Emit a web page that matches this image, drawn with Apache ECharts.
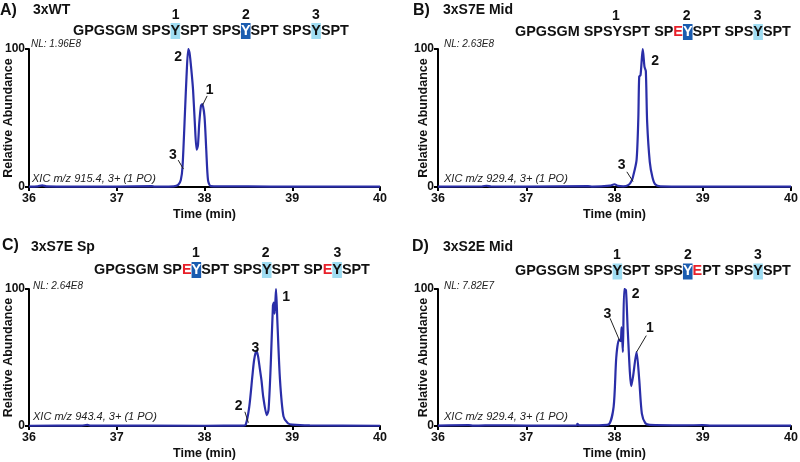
<!DOCTYPE html>
<html><head><meta charset="utf-8">
<script src="https://cdn.jsdelivr.net/npm/echarts@6/dist/echarts.min.js"></script>
<style>html,body{margin:0;padding:0;background:#fff}#c{width:800px;height:462px}</style>
</head><body><div id="c"></div>
<script>
// ---- data ----
var tA = [36.0,36.1,36.15,36.2,36.5,37.0,37.4,37.43,37.5,37.65,37.70,37.73,37.75,37.78,37.795,37.815,37.83,37.85,37.87,37.89,37.91,37.925,37.94,37.96,37.975,38.0,38.02,38.04,38.07,38.2,38.5,39.0,40.0];
var vA = [0.3,0.5,1.2,0.5,0.3,0.3,0.6,0.3,0.3,0.5,1.5,5,15,58,80,100,97,85,70,46,27,30,46,59,60,51,27,5,0.7,0.5,0.4,0.3,0.3];
var tB = [36.0,36.5,36.55,36.6,37.0,37.7,37.75,37.95,38.0,38.04,38.1,38.16,38.19,38.21,38.25,38.27,38.28,38.295,38.32,38.34,38.355,38.37,38.40,38.43,38.46,38.52,39.0,40.0];
var vB = [0.3,0.5,0.9,0.4,0.3,0.6,0.3,1.0,2.0,0.8,0.5,1.5,4,7.5,19.5,50,80,81,100,87,84,47,18,7,2,0.5,0.3,0.3];
var tC = [36.0,36.6,36.665,36.7,38.0,38.44,38.47,38.51,38.545,38.565,38.59,38.61,38.63,38.65,38.67,38.71,38.73,38.755,38.78,38.79,38.80,38.815,38.83,38.86,38.90,38.95,39.0,39.2,40.0];
var vC = [0.2,0.3,0.8,0.3,0.2,0.3,1,14,36,48,55,51,42,33,21,8,12,45,88,90,82,100,77,34,7,2,1,0.4,0.2];
var tD = [36.0,36.35,36.4,36.45,36.62,37.0,37.57,37.58,37.6,37.8,37.93,37.99,38.02,38.05,38.07,38.08,38.095,38.11,38.13,38.15,38.19,38.21,38.25,38.28,38.31,38.35,38.4,38.8,39.0,39.1,40.0];
var vD = [0.3,0.6,0.3,0.3,0.5,0.3,0.4,1.5,0.4,0.5,1,14,50,63,62,72,54,100,99,70,29,36,54,34,9,2,0.8,0.5,0.6,0.3,0.3];

var xTicks = [36,37,38,39,40];
var yTicks = [0,100];
var panelLetters = ['A)','B)','C)','D)'];
var panelNames = ['3xWT','3xS7E Mid','3xS7E Sp','3xS2E Mid'];
var nlTexts = ['NL: 1.96E8','NL: 2.63E8','NL: 2.64E8','NL: 7.82E7'];
var xicTexts = ['XIC m/z 915.4, 3+ (1 PO)','XIC m/z 929.4, 3+ (1 PO)','XIC m/z 943.4, 3+ (1 PO)','XIC m/z 929.4, 3+ (1 PO)'];
var siteNums = ['1','2','3'];
// sequence segments: n = plain, l = light highlight, d = dark highlight, r = red
var seqA = [['n','GPGSGM SPS'],['l','Y'],['n','SPT SPS'],['d','Y'],['n','SPT SPS'],['l','Y'],['n','SPT']];
var seqB = [['n','GPGSGM SPSYSPT SP'],['r','E'],['d','Y'],['n','SPT SPS'],['l','Y'],['n','SPT']];
var seqC = [['n','GPGSGM SP'],['r','E'],['d','Y'],['n','SPT SPS'],['l','Y'],['n','SPT SP'],['r','E'],['l','Y'],['n','SPT']];
var seqD = [['n','GPGSGM SPS'],['l','Y'],['n','SPT SPS'],['d','Y'],['r','E'],['n','PT SPS'],['l','Y'],['n','SPT']];
// peak annotations: [label, labelTime, labelValue, lineFromT, lineFromV, lineToT, lineToV]
var annA = [['2',37.70,94],['1',38.06,70,38.03,66,37.975,59],['3',37.64,23,37.70,19.5,37.76,13]];
var annB = [['2',38.46,91],['3',38.08,16,38.14,11,38.21,4]];
var annC = [['1',38.93,94],['3',38.58,57],['2',38.39,14.6,38.46,10.4,38.50,2.4]];
var annD = [['3',37.92,82,37.95,78.6,38.06,62],['2',38.24,96],['1',38.40,71.5,38.36,66,38.25,54]];

// ---- layout ----
var FONT = 'Arial, "Liberation Sans", Helvetica, sans-serif';
var LINE = '#2a2ea8';
var grids = [
  {left:29, top:49, width:351, height:138},
  {left:438, top:49, width:353, height:138},
  {left:29, top:289, width:351, height:137},
  {left:438, top:289, width:353, height:137}
].map(function(g){ g.containLabel=false; g.outerBoundsMode='none'; return g; });
var yNameGaps = [14, 8, 14, 8];
var series = [[tA,vA,annA],[tB,vB,annB],[tC,vC,annC],[tD,vD,annD]];

function mkX(i){
  return {gridIndex:i, type:'value', min:xTicks[0], max:xTicks[xTicks.length-1], interval:1,
    name:'Time (min)', nameLocation:'middle', nameGap:21, nameMoveOverlap:false,
    nameTextStyle:{fontFamily:FONT, fontWeight:'bold', fontSize:12.5, color:'#111'},
    axisLine:{onZero:false, lineStyle:{color:'#000', width:2}},
    axisTick:{length:4, lineStyle:{color:'#000', width:2}},
    axisLabel:{margin:5, fontFamily:FONT, fontWeight:'bold', fontSize:12.5, color:'#111'},
    splitLine:{show:false}};
}
function mkY(i){
  return {gridIndex:i, type:'value', min:yTicks[0], max:yTicks[1], interval:100,
    name:'Relative Abundance', nameLocation:'middle', nameGap:yNameGaps[i], nameRotate:90, nameMoveOverlap:false,
    nameTextStyle:{fontFamily:FONT, fontWeight:'bold', fontSize:12.5, color:'#111'},
    axisLine:{show:true, lineStyle:{color:'#000', width:2}},
    axisTick:{show:true, length:4, lineStyle:{color:'#000', width:2}},
    axisLabel:{margin:4, fontFamily:FONT, fontWeight:'bold', fontSize:12, color:'#111'},
    splitLine:{show:false}};
}
var seriesOpts = series.map(function(s,i){
  var data = s[0].map(function(t,k){return [t, s[1][k]];});
  var mp = s[2].map(function(a){
    return {coord:[a[1],a[2]], value:a[0], symbol:'circle', symbolSize:1, itemStyle:{color:'rgba(0,0,0,0)'},
      label:{show:true, position:'inside', formatter:a[0], fontFamily:FONT, fontWeight:'bold', fontSize:14, color:'#111'}};
  });
  var ml = s[2].filter(function(a){return a.length>3;}).map(function(a){
    return [{coord:[a[3],a[4]]},{coord:[a[5],a[6]]}];
  });
  return {type:'line', xAxisIndex:i, yAxisIndex:i, data:data, showSymbol:false, smooth:0.25,
    lineStyle:{color:LINE, width:2.2}, itemStyle:{color:LINE}, animation:false, silent:true,
    markPoint:{data:mp, animation:false, silent:true},
    markLine:{data:ml, symbol:['none','none'], silent:true, animation:false,
      lineStyle:{color:'#222', width:1, type:'solid'}, label:{show:false}}};
});

function seqText(parts){
  return parts.map(function(p){return '{'+p[0]+'|'+p[1]+'}';}).join('');
}
var SF = 14.4;
var richSeq = {
  n:{fontFamily:FONT, fontWeight:'bold', fontSize:SF, fill:'#111', color:'#111'},
  l:{fontFamily:FONT, fontWeight:'bold', fontSize:SF, fill:'#111', color:'#111', backgroundColor:'#9fdcf2', padding:[1,0,1,0]},
  d:{fontFamily:FONT, fontWeight:'bold', fontSize:SF, fill:'#fff', color:'#fff', backgroundColor:'#1a5cb0', padding:[1,0,1,0]},
  r:{fontFamily:FONT, fontWeight:'bold', fontSize:SF, fill:'#e8202a', color:'#e8202a'}
};
var seqs = [seqA,seqB,seqC,seqD];
var seqPos = [[73,31],[515,32],[94,270],[515,271.5]];
var numPos = [[[175.7,15],[246,15],[316,15]],[[616,16],[686.7,16],[757.7,16]],[[196,253],[265.7,253],[337.3,253]],[[617,255.5],[688,255.5],[758,255.5]]];
var letterPos = [[0,10.5],[413,10.5],[2,246],[412,247]];
var namePos = [[33,10.5],[443,10.5],[31,247],[443,247]];
var nlPos = [[31,44.5],[444,44.5],[33,286.5],[444,286.5]];
var xicPos = [[32,179],[444,179],[33,417],[444,417]];

var graphic = [];
for (var i=0;i<4;i++){
  graphic.push({type:'text', x:letterPos[i][0], y:letterPos[i][1], style:{text:panelLetters[i], font:'bold 16px '+FONT, fill:'#111', textVerticalAlign:'middle'}});
  graphic.push({type:'text', x:namePos[i][0], y:namePos[i][1], style:{text:panelNames[i], font:'bold 14px '+FONT, fill:'#111', textVerticalAlign:'middle'}});
  graphic.push({type:'text', x:seqPos[i][0], y:seqPos[i][1], style:{text:seqText(seqs[i]), rich:richSeq, font:'bold '+SF+'px '+FONT, fill:'#111', textVerticalAlign:'middle'}});
  for (var k=0;k<3;k++){
    graphic.push({type:'text', x:numPos[i][k][0], y:numPos[i][k][1], style:{text:siteNums[k], font:'bold 14px '+FONT, fill:'#111', textAlign:'center', textVerticalAlign:'middle'}});
  }
  graphic.push({type:'text', x:nlPos[i][0], y:nlPos[i][1], style:{text:nlTexts[i], font:'italic 10px '+FONT, fill:'#222', textVerticalAlign:'middle'}});
  graphic.push({type:'text', x:xicPos[i][0], y:xicPos[i][1], style:{text:xicTexts[i], font:'italic 11px '+FONT, fill:'#222', textVerticalAlign:'middle'}});
}

var chart = echarts.init(document.getElementById('c'), null, {renderer:'canvas'});
chart.setOption({
  animation:false,
  backgroundColor:'#fff',
  grid:grids,
  xAxis:[0,1,2,3].map(mkX),
  yAxis:[0,1,2,3].map(mkY),
  series:seriesOpts,
  graphic:graphic
});
</script></body></html>
